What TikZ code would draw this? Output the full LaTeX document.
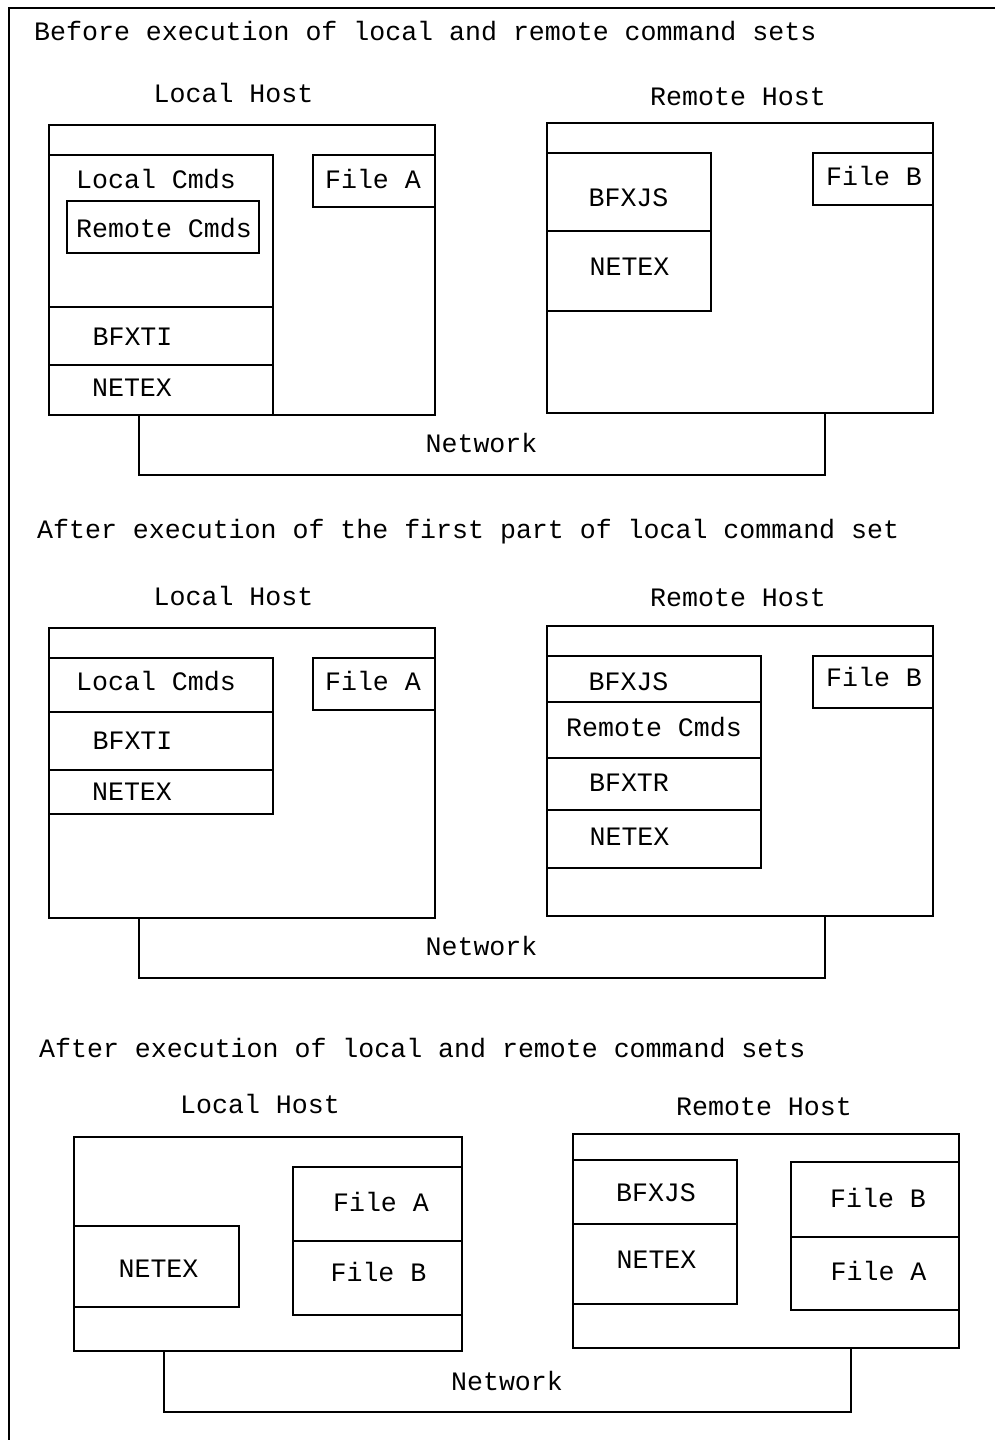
\documentclass[tikz,border=0pt]{standalone}
\usepackage{fontspec}
\setmonofont{Liberation Mono}
\usetikzlibrary{fit}
\begin{document}
\begin{tikzpicture}[x=1pt,y=-1pt,
  box/.style={draw, line width=2pt, inner sep=0pt, outer sep=0pt},
  wire/.style={draw, line width=2pt},
  txt/.style={inner sep=0pt, anchor=base, font=\ttfamily\fontsize{26.6}{30}\selectfont},
  ltxt/.style={txt, anchor=base west}]
\useasboundingbox (0,0) rectangle (995,1440);
\draw[line width=1.6pt] (9,1440) -- (9,8) -- (995,8);

% ---------- Section 1 ----------
\node[ltxt] (t1) at (34,40) {Before execution of local and remote command sets};
\node[txt] (lhl1) at (233.5,102) {Local Host};
\node[txt] (rhl1) at (738,105) {Remote Host};
\node[box, fit={(49,125)(435,415)}] (lh1) {};
\node[box, fit={(49,155)(273,307)}] (lc1) {};
\node[box, fit={(67,201)(259,253)}] (rc1) {};
\node[box, fit={(49,307)(273,365)}] (bi1) {};
\node[box, fit={(49,365)(273,415)}] (ln1) {};
\node[box, fit={(313,155)(435,207)}] (fa1) {};
\node[txt] (lct1) at (156,188) {Local Cmds};
\node[txt] (rct1) at (164,237) {Remote Cmds};
\node[txt] (bit1) at (132.5,345) {BFXTI};
\node[txt] (lnt1) at (132,396.5) {NETEX};
\node[txt] (fat1) at (373,188) {File A};
\node[box, fit={(547,123)(933,413)}] (rh1) {};
\node[box, fit={(547,153)(711,231)}] (bj1) {};
\node[box, fit={(547,231)(711,311)}] (rn1) {};
\node[box, fit={(813,153)(933,205)}] (fb1) {};
\node[txt] (bjt1) at (628.5,206.5) {BFXJS};
\node[txt] (rnt1) at (629.5,275) {NETEX};
\node[txt] (fbt1) at (874,185) {File B};
\draw[wire] ([xshift=90pt]lh1.south west) -- ++(0,60) -| ([xshift=-108pt]rh1.south east);
\node[txt] (nt1) at (481.5,452.5) {Network};

% ---------- Section 2 ----------
\node[ltxt] (t2) at (37,538) {After execution of the first part of local command set};
\node[txt] (lhl2) at (233.5,605) {Local Host};
\node[txt] (rhl2) at (738,606.5) {Remote Host};
\node[box, fit={(49,628)(435,918)}] (lh2) {};
\node[box, fit={(49,658)(273,712)}] (lc2) {};
\node[box, fit={(49,712)(273,770)}] (bi2) {};
\node[box, fit={(49,770)(273,814)}] (ln2) {};
\node[box, fit={(313,658)(435,710)}] (fa2) {};
\node[txt] (lct2) at (156,690.5) {Local Cmds};
\node[txt] (bit2) at (132.5,749.5) {BFXTI};
\node[txt] (lnt2) at (132,800.5) {NETEX};
\node[txt] (fat2) at (373,690.5) {File A};
\node[box, fit={(547,626)(933,916)}] (rh2) {};
\node[box, fit={(547,656)(761,702)}] (bj2) {};
\node[box, fit={(547,702)(761,758)}] (rc2) {};
\node[box, fit={(547,758)(761,810)}] (br2) {};
\node[box, fit={(547,810)(761,868)}] (rn2) {};
\node[box, fit={(813,656)(933,708)}] (fb2) {};
\node[txt] (bjt2) at (628.5,690) {BFXJS};
\node[txt] (rct2) at (654,736.5) {Remote Cmds};
\node[txt] (brt2) at (629,791) {BFXTR};
\node[txt] (rnt2) at (629.5,845) {NETEX};
\node[txt] (fbt2) at (874,686.5) {File B};
\draw[wire] ([xshift=90pt]lh2.south west) -- ++(0,60) -| ([xshift=-108pt]rh2.south east);
\node[txt] (nt2) at (481.5,955) {Network};

% ---------- Section 3 ----------
\node[ltxt] (t3) at (39,1057.5) {After execution of local and remote command sets};
\node[txt] (lhl3) at (260,1113.5) {Local Host};
\node[txt] (rhl3) at (764,1115) {Remote Host};
\node[box, fit={(74,1137)(462,1351)}] (lh3) {};
\node[box, fit={(74,1226)(239,1307)}] (ln3) {};
\node[box, fit={(293,1167)(462,1241)}] (fa3) {};
\node[box, fit={(293,1241)(462,1315)}] (fb3) {};
\node[txt] (lnt3) at (158.5,1277.5) {NETEX};
\node[txt] (fat3) at (381,1211.5) {File A};
\node[txt] (fbt3) at (378.5,1281.5) {File B};
\node[box, fit={(573,1134)(959,1348)}] (rh3) {};
\node[box, fit={(573,1160)(737,1224)}] (bj3) {};
\node[box, fit={(573,1224)(737,1304)}] (rn3) {};
\node[box, fit={(791,1162)(959,1237)}] (rb3) {};
\node[box, fit={(791,1237)(959,1310)}] (ra3) {};
\node[txt] (bjt3) at (656,1201.5) {BFXJS};
\node[txt] (rnt3) at (656.5,1268.5) {NETEX};
\node[txt] (rbt3) at (878,1207.5) {File B};
\node[txt] (rat3) at (878.5,1280) {File A};
\draw[wire] ([xshift=90pt]lh3.south west) -- ++(0,61) -| ([xshift=-108pt]rh3.south east);
\node[txt] (nt3) at (507,1390) {Network};
\end{tikzpicture}
\end{document}
